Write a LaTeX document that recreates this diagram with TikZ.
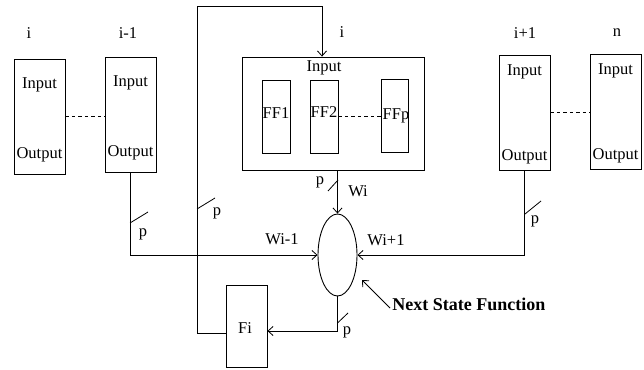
\documentclass[tikz,border=0pt]{standalone}
\usepackage{fontspec}
\setmainfont{Liberation Serif}
\usetikzlibrary{arrows.meta,shapes.geometric,calc}
\begin{document}
\begin{tikzpicture}[x=1pt,y=-1pt,line width=0.9pt,
  box/.style={draw,rectangle,inner sep=0pt,minimum width=51pt,minimum height=115pt},
  ffbox/.style={draw,rectangle,inner sep=0pt,minimum width=28pt,minimum height=73pt},
  txt/.style={inner sep=0pt,font=\fontsize{16.5}{18}\selectfont},
  arr/.style={-{Straight Barb[length=5pt,width=9pt,line width=0.8pt]}},
  tick/.style={line width=0.8pt},
  dsh/.style={dashed,dash pattern=on 3.5pt off 3pt}]
\useasboundingbox (0,0) rectangle (644,369);
% boxes
\node[box] (bI) at (39.5,116.5) {};
\node[box] (bIm) at (130.5,114.5) {};
\node[box] (bIp) at (524.5,112.5) {};
\node[box] (bN) at (615.5,111.5) {};
\node[draw,rectangle,inner sep=0pt,minimum width=182pt,minimum height=113pt] (bB) at (333,113.5) {};
\node[ffbox] (ff1) at (276,116.5) {};
\node[ffbox] (ff2) at (324,116.5) {};
\node[ffbox,minimum width=27pt] (ffp) at (394.5,115.5) {};
\node[draw,rectangle,inner sep=0pt,minimum width=41pt,minimum height=82pt] (Fi) at (246.5,326) {};
\node[draw,ellipse,inner sep=0pt,minimum width=39pt,minimum height=82pt] (ell) at (337.5,255) {};
% texts
\node[txt] (tI) at (29,33) {i};
\node[txt] (tIm) at (128,33) {i-1};
\node[txt] (tIb) at (342,32) {i};
\node[txt] (tIp) at (525,33) {i+1};
\node[txt] (tN) at (617,33) {n};
\node[txt] (in1) at (39.5,85) {Input};
\node[txt] (out1) at (39.5,155) {Output};
\node[txt] (in2) at (130.5,83) {Input};
\node[txt] (out2) at (130.5,153) {Output};
\node[txt] (in3) at (524.5,72) {Input};
\node[txt] (out3) at (524.5,157) {Output};
\node[txt] (in4) at (615.5,71) {Input};
\node[txt] (out4) at (615.5,156) {Output};
\node[txt] (inB) at (324,68) {Input};
\node[txt] (tff1) at (276,113) {FF1};
\node[txt] (tff2) at (324,112) {FF2};
\node[txt] (tffp) at (396,116) {FFp};
\node[txt] (tFi) at (245,328) {Fi};
\node[txt] (tWi) at (358,191) {Wi};
\node[txt] (tWim) at (282,239) {Wi-1};
\node[txt] (tWip) at (386,240) {Wi+1};
\node[txt] (p1) at (143,234) {p};
\node[txt] (p2) at (217,213) {p};
\node[txt] (p3) at (320,182) {p};
\node[txt] (p4) at (535,221) {p};
\node[txt] (p5) at (347,332) {p};
\node[inner sep=0pt,anchor=west,font=\fontsize{18}{20}\selectfont\bfseries] (nsf) at (392,304) {Next State Function};
% dashed links
\draw[dsh] (bI.east) -- (bI.east -| bIm.west);
\draw[dsh] (bIp.east) -- (bIp.east -| bN.west);
\draw[dsh] (ff2.east) -- (ff2.east -| ffp.west);
% connectors
\draw[arr] (bIm.south) |- (ell.west);
\draw[arr] (bIp.south) |- (ell.east);
\draw[arr] (bB.south -| ell.north) -- (ell.north);
\coordinate (fiIn) at ($(Fi.east)+(0,5)$);
\draw[arr] (ell.south) |- (fiIn);
\coordinate (fiOut) at ($(Fi.west)+(0,7)$);
\coordinate (fbTL) at (197,6);
\coordinate (fbIn) at ($(bB.north)+(-11,0)$);
\draw[arr] (fiOut) -| (fbTL) -| (fbIn);
\coordinate (nsfTail) at (390,308);
\coordinate (nsfTip) at (362,280);
\draw[arr] (nsfTail) -- (nsfTip);
% bus ticks
\draw[tick] (130,223) -- (148,212);
\draw[tick] (197,209) -- (215,198);
\draw[tick] (328,191) -- (338,180);
\draw[tick] (525,214) -- (541,201);
\draw[tick] (337.5,323) -- (348,313);
\end{tikzpicture}
\end{document}
